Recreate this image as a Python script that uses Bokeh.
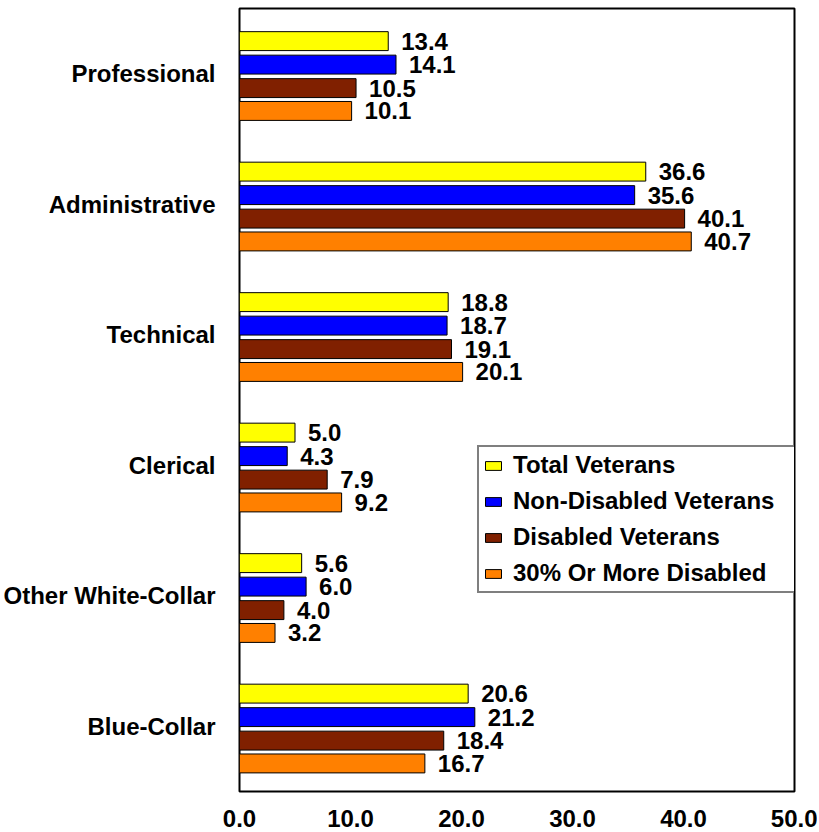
from bokeh.plotting import figure
from bokeh.models import (FactorRange, Range1d, FixedTicker, NumeralTickFormatter,
                          Legend, LegendItem, ColumnDataSource)
from bokeh.transform import dodge
from bokeh.core.properties import value
from bokeh.embed import file_html
from bokeh.resources import INLINE

categories = ["Professional", "Administrative", "Technical", "Clerical",
              "Other White-Collar", "Blue-Collar"]
series_names = ["Total Veterans", "Non-Disabled Veterans", "Disabled Veterans",
                "30% Or More Disabled"]
total_veterans = [13.4, 36.6, 18.8, 5.0, 5.6, 20.6]
non_disabled_veterans = [14.1, 35.6, 18.7, 4.3, 6.0, 21.2]
disabled_veterans = [10.5, 40.1, 19.1, 7.9, 4.0, 18.4]
more_disabled_30 = [10.1, 40.7, 20.1, 9.2, 3.2, 16.7]
x_ticks = [0, 10, 20, 30, 40, 50]

series_values = [total_veterans, non_disabled_veterans, disabled_veterans, more_disabled_30]
colors = ["#FFFF00", "#0000FF", "#802000", "#FF8000"]
offsets = [0.25, 0.07, -0.11, -0.285]
FONT = "Liberation Sans"
FS = "24px"

p = figure(width=817, height=830,
           y_range=FactorRange(factors=categories[::-1]),
           x_range=Range1d(0, 50),
           output_backend="svg", toolbar_location=None,
           min_border_left=233, min_border_right=23,
           min_border_top=8, min_border_bottom=39)

renderers = []
for name, vals, col, off in zip(series_names, series_values, colors, offsets):
    src = ColumnDataSource(dict(cat=categories, val=vals,
                                lab=[f"{v:.1f}" for v in vals]))
    r = p.hbar(y=dodge("cat", off, range=p.y_range), left=0, right="val",
               height=0.145, fill_color=col, line_color="black", line_width=1,
               source=src)
    renderers.append(r)
    p.text(x="val", y=dodge("cat", off, range=p.y_range), text="lab",
           x_offset=13, text_align="left", text_baseline="middle",
           text_font=value(FONT), text_font_style="bold", text_font_size=FS,
           text_color="black", source=src)

p.xaxis.ticker = FixedTicker(ticks=x_ticks)
p.xaxis.formatter = NumeralTickFormatter(format="0.0")
for ax in (p.xaxis, p.yaxis):
    ax.major_tick_line_color = None
    ax.minor_tick_line_color = None
    ax.axis_line_color = None
    ax.major_label_text_font = FONT
    ax.major_label_text_font_style = "bold"
    ax.major_label_text_font_size = FS
    ax.major_label_text_color = "black"
p.xaxis.major_label_standoff = 12
p.yaxis.major_label_standoff = 18

p.xgrid.grid_line_color = None
p.ygrid.grid_line_color = None
p.outline_line_color = "black"
p.outline_line_width = 2
p.background_fill_color = "white"
p.border_fill_color = "white"

legend = Legend(items=[LegendItem(label=n, renderers=[r]) for n, r in zip(series_names, renderers)],
                location=(238, 198),
                border_line_color="black", border_line_width=2,
                background_fill_color="white", background_fill_alpha=1,
                label_text_font=FONT, label_text_font_style="bold",
                label_text_font_size=FS, label_text_color="black",
                glyph_width=20, glyph_height=11, label_standoff=10,
                padding=4, spacing=8, label_height=26, label_width=285, margin=0)
p.add_layout(legend)

open("out.html", "w").write(file_html(p, INLINE))
